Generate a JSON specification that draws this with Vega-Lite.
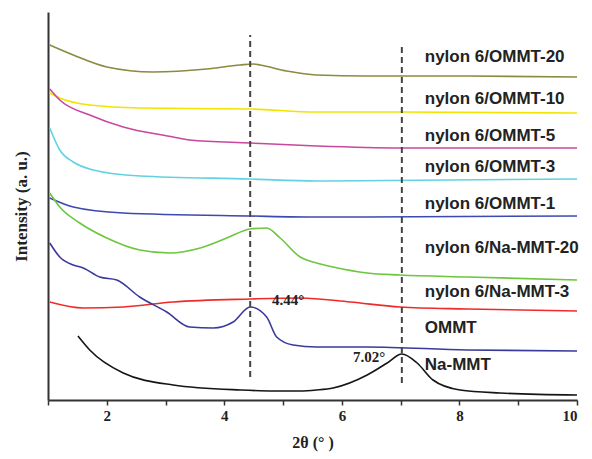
{
  "$schema": "https://vega.github.io/schema/vega-lite/v6.json",
  "autosize": {"type": "none"},
  "width": 529,
  "height": 388,
  "padding": {"left": 48, "top": 12, "right": 15, "bottom": 59},
  "background": "white",
  "config": {"view": {"stroke": null}},
  "datasets": {
    "curves": [
      {"s": "OMMT-20", "x": 1.03, "y": 355}, {"s": "OMMT-20", "x": 1.43, "y": 345}, {"s": "OMMT-20", "x": 2.0, "y": 333}, {"s": "OMMT-20", "x": 2.79, "y": 328}, {"s": "OMMT-20", "x": 3.7, "y": 331}, {"s": "OMMT-20", "x": 4.27, "y": 335}, {"s": "OMMT-20", "x": 4.49, "y": 336}, {"s": "OMMT-20", "x": 4.61, "y": 335}, {"s": "OMMT-20", "x": 5.06, "y": 329}, {"s": "OMMT-20", "x": 5.57, "y": 325}, {"s": "OMMT-20", "x": 6.43, "y": 324}, {"s": "OMMT-20", "x": 8.0, "y": 324}, {"s": "OMMT-20", "x": 10, "y": 323},
      {"s": "OMMT-10", "x": 1.03, "y": 307}, {"s": "OMMT-10", "x": 1.2, "y": 302}, {"s": "OMMT-10", "x": 1.71, "y": 295}, {"s": "OMMT-10", "x": 2.56, "y": 292}, {"s": "OMMT-10", "x": 4.44, "y": 291}, {"s": "OMMT-10", "x": 5.57, "y": 288}, {"s": "OMMT-10", "x": 7.0, "y": 288}, {"s": "OMMT-10", "x": 10, "y": 287},
      {"s": "OMMT-5", "x": 1.03, "y": 311}, {"s": "OMMT-5", "x": 1.2, "y": 300}, {"s": "OMMT-5", "x": 1.71, "y": 285}, {"s": "OMMT-5", "x": 2.28, "y": 273}, {"s": "OMMT-5", "x": 3.13, "y": 263}, {"s": "OMMT-5", "x": 3.41, "y": 260}, {"s": "OMMT-5", "x": 4.44, "y": 257}, {"s": "OMMT-5", "x": 5.57, "y": 254}, {"s": "OMMT-5", "x": 6.99, "y": 252}, {"s": "OMMT-5", "x": 10, "y": 252},
      {"s": "OMMT-3", "x": 1.03, "y": 272}, {"s": "OMMT-3", "x": 1.2, "y": 250}, {"s": "OMMT-3", "x": 1.43, "y": 238}, {"s": "OMMT-3", "x": 1.77, "y": 230}, {"s": "OMMT-3", "x": 2.56, "y": 224}, {"s": "OMMT-3", "x": 4.44, "y": 221}, {"s": "OMMT-3", "x": 5.57, "y": 219}, {"s": "OMMT-3", "x": 10, "y": 221},
      {"s": "OMMT-1", "x": 1.03, "y": 202}, {"s": "OMMT-1", "x": 1.43, "y": 193}, {"s": "OMMT-1", "x": 2.28, "y": 187}, {"s": "OMMT-1", "x": 4.44, "y": 184}, {"s": "OMMT-1", "x": 5.57, "y": 183}, {"s": "OMMT-1", "x": 10, "y": 184},
      {"s": "Na-20", "x": 1.03, "y": 207}, {"s": "Na-20", "x": 1.2, "y": 193}, {"s": "Na-20", "x": 1.54, "y": 177}, {"s": "Na-20", "x": 2.0, "y": 162}, {"s": "Na-20", "x": 2.56, "y": 150}, {"s": "Na-20", "x": 3.07, "y": 147}, {"s": "Na-20", "x": 3.59, "y": 152}, {"s": "Na-20", "x": 4.04, "y": 162}, {"s": "Na-20", "x": 4.44, "y": 171}, {"s": "Na-20", "x": 4.72, "y": 172}, {"s": "Na-20", "x": 4.95, "y": 162}, {"s": "Na-20", "x": 5.29, "y": 143}, {"s": "Na-20", "x": 5.57, "y": 137}, {"s": "Na-20", "x": 5.85, "y": 133}, {"s": "Na-20", "x": 6.43, "y": 127}, {"s": "Na-20", "x": 6.99, "y": 125}, {"s": "Na-20", "x": 8.13, "y": 123}, {"s": "Na-20", "x": 10, "y": 120},
      {"s": "Na-3", "x": 1.03, "y": 98}, {"s": "Na-3", "x": 1.6, "y": 92}, {"s": "Na-3", "x": 2.28, "y": 93}, {"s": "Na-3", "x": 3.13, "y": 98}, {"s": "Na-3", "x": 4.44, "y": 101}, {"s": "Na-3", "x": 5.29, "y": 102}, {"s": "Na-3", "x": 6.14, "y": 98}, {"s": "Na-3", "x": 6.99, "y": 93}, {"s": "Na-3", "x": 8.13, "y": 91}, {"s": "Na-3", "x": 10, "y": 89},
      {"s": "OMMT", "x": 1.03, "y": 157}, {"s": "OMMT", "x": 1.2, "y": 143}, {"s": "OMMT", "x": 1.43, "y": 135}, {"s": "OMMT", "x": 1.6, "y": 132}, {"s": "OMMT", "x": 1.88, "y": 123}, {"s": "OMMT", "x": 2.17, "y": 120}, {"s": "OMMT", "x": 2.56, "y": 103}, {"s": "OMMT", "x": 3.02, "y": 88}, {"s": "OMMT", "x": 3.41, "y": 73}, {"s": "OMMT", "x": 3.81, "y": 72}, {"s": "OMMT", "x": 4.15, "y": 78}, {"s": "OMMT", "x": 4.44, "y": 93}, {"s": "OMMT", "x": 4.72, "y": 83}, {"s": "OMMT", "x": 4.89, "y": 63}, {"s": "OMMT", "x": 5.17, "y": 55}, {"s": "OMMT", "x": 5.57, "y": 53}, {"s": "OMMT", "x": 6.43, "y": 53}, {"s": "OMMT", "x": 8.13, "y": 50}, {"s": "OMMT", "x": 10, "y": 49},
      {"s": "Na-MMT", "x": 1.51, "y": 64}, {"s": "Na-MMT", "x": 1.71, "y": 50}, {"s": "Na-MMT", "x": 2.28, "y": 27}, {"s": "Na-MMT", "x": 3.13, "y": 15}, {"s": "Na-MMT", "x": 4.27, "y": 10}, {"s": "Na-MMT", "x": 4.83, "y": 9}, {"s": "Na-MMT", "x": 5.29, "y": 9}, {"s": "Na-MMT", "x": 5.57, "y": 10}, {"s": "Na-MMT", "x": 5.85, "y": 12}, {"s": "Na-MMT", "x": 6.43, "y": 25}, {"s": "Na-MMT", "x": 6.77, "y": 37}, {"s": "Na-MMT", "x": 7.02, "y": 46}, {"s": "Na-MMT", "x": 7.28, "y": 37}, {"s": "Na-MMT", "x": 7.55, "y": 20}, {"s": "Na-MMT", "x": 8.01, "y": 10}, {"s": "Na-MMT", "x": 8.69, "y": 7}, {"s": "Na-MMT", "x": 10, "y": 5}
    ],
    "peaks": [
      {"x": 4.44, "y": 23, "y2": 365},
      {"x": 7.02, "y": 17, "y2": 357}
    ],
    "notes": [
      {"x": 4.81, "y": 95, "t": "4.44°"},
      {"x": 6.19, "y": 38, "t": "7.02°"}
    ],
    "labels": [
      {"x": 7.41, "y": 343, "t": "nylon 6/OMMT-20"},
      {"x": 7.41, "y": 301, "t": "nylon 6/OMMT-10"},
      {"x": 7.41, "y": 264, "t": "nylon 6/OMMT-5"},
      {"x": 7.41, "y": 233, "t": "nylon 6/OMMT-3"},
      {"x": 7.41, "y": 196, "t": "nylon 6/OMMT-1"},
      {"x": 7.41, "y": 152, "t": "nylon 6/Na-MMT-20"},
      {"x": 7.41, "y": 108, "t": "nylon 6/Na-MMT-3"},
      {"x": 7.41, "y": 72, "t": "OMMT"},
      {"x": 7.41, "y": 35, "t": "Na-MMT"}
    ]
  },
  "layer": [
    {
      "data": {"name": "curves"},
      "mark": {"type": "line", "interpolate": "monotone", "strokeWidth": 1.6},
      "encoding": {
        "x": {
          "field": "x", "type": "quantitative",
          "scale": {"domain": [1, 10], "nice": false, "zero": false},
          "axis": {
            "values": [1, 2, 3, 4, 5, 6, 7, 8, 9, 10],
            "format": "d",
            "labelExpr": "datum.value % 2 == 0 ? datum.label : ''",
            "grid": false,
            "domainColor": "#333333", "domainWidth": 2,
            "tickColor": "#333333", "tickWidth": 1.5, "tickSize": 5,
            "labelFont": "Liberation Serif", "labelFontWeight": "bold", "labelFontSize": 15, "labelColor": "#222222",
            "labelPadding": 3,
            "title": "2θ (° )",
            "titleFont": "Liberation Serif", "titleFontWeight": "bold", "titleFontSize": 16, "titleColor": "#222222",
            "titlePadding": 11
          }
        },
        "y": {
          "field": "y", "type": "quantitative",
          "scale": {"domain": [0, 388], "nice": false},
          "axis": {
            "ticks": false, "labels": false, "grid": false,
            "domainColor": "#333333", "domainWidth": 2,
            "title": "Intensity (a. u.)",
            "titleFont": "Liberation Serif", "titleFontWeight": "bold", "titleFontSize": 17, "titleColor": "#222222",
            "titlePadding": 18
          }
        },
        "color": {
          "field": "s", "type": "nominal", "legend": null,
          "scale": {
            "domain": ["OMMT-20", "OMMT-10", "OMMT-5", "OMMT-3", "OMMT-1", "Na-20", "Na-3", "OMMT", "Na-MMT"],
            "range": ["#8a8a40", "#f2e400", "#c8479f", "#62d2e2", "#3c4ab0", "#6cc63e", "#f02a2a", "#3a3a9c", "#151515"]
          }
        }
      }
    },
    {
      "data": {"name": "peaks"},
      "mark": {"type": "rule", "strokeDash": [6, 4], "strokeWidth": 2, "color": "#444444"},
      "encoding": {
        "x": {"field": "x", "type": "quantitative"},
        "y": {"field": "y", "type": "quantitative"},
        "y2": {"field": "y2"}
      }
    },
    {
      "data": {"name": "notes"},
      "mark": {"type": "text", "align": "left", "baseline": "alphabetic", "font": "Liberation Serif", "fontWeight": "bold", "fontSize": 15, "color": "#222222"},
      "encoding": {
        "x": {"field": "x", "type": "quantitative"},
        "y": {"field": "y", "type": "quantitative"},
        "text": {"field": "t"}
      }
    },
    {
      "data": {"name": "labels"},
      "mark": {"type": "text", "align": "left", "baseline": "middle", "font": "Liberation Sans", "fontWeight": "bold", "fontSize": 17, "color": "#222222"},
      "encoding": {
        "x": {"field": "x", "type": "quantitative"},
        "y": {"field": "y", "type": "quantitative"},
        "text": {"field": "t"}
      }
    }
  ]
}
